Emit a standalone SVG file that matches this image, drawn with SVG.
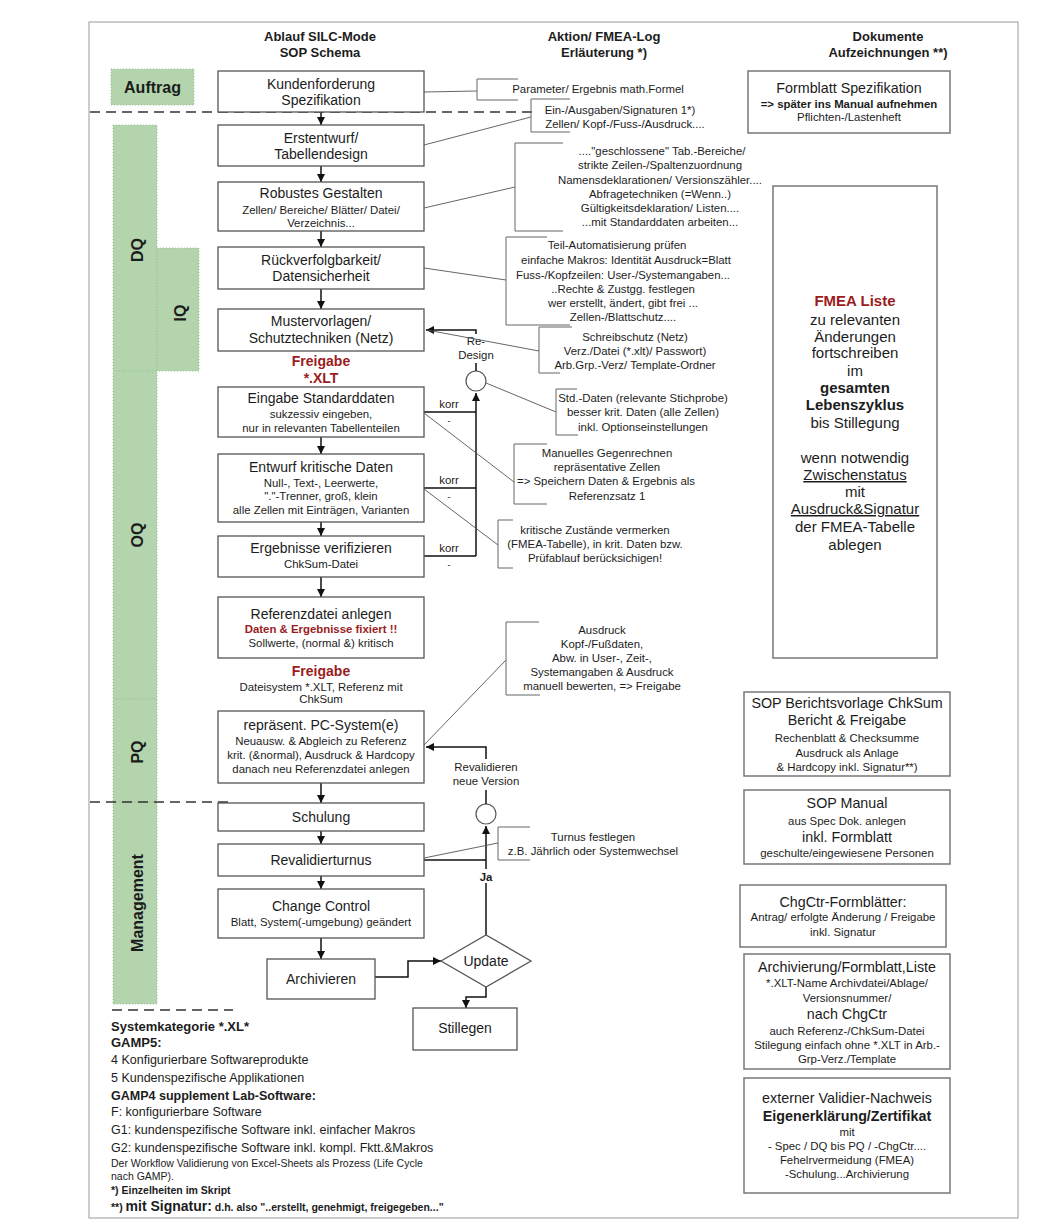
<svg xmlns="http://www.w3.org/2000/svg" width="1055" height="1229" viewBox="0 0 1055 1229">
<defs>
<style>
text{font-family:"Liberation Sans",Arial,sans-serif;fill:#1c1c1c;text-anchor:middle}
.h{font-size:13px;font-weight:bold}
.t14{font-size:14px}
.t11{font-size:11.4px}
.n{font-size:11.4px}
.r14{font-size:14.3px}
.red{fill:#9b1c1c;font-weight:bold}
.b{font-weight:bold}
.lab{font-size:16px;font-weight:bold}
.left{text-anchor:start}
.box{fill:#fff;stroke:#555;stroke-width:1.3}
.rbox{fill:#fff;stroke:#777;stroke-width:1.5}
.note{fill:none;stroke:#666;stroke-width:1}
.conn{fill:none;stroke:#555;stroke-width:0.9}
.flow{fill:none;stroke:#111;stroke-width:1.5}
.green{fill:#b3d4ad;stroke:#9cbf95;stroke-width:1;stroke-dasharray:1 2}
.dash{stroke:#333;stroke-width:1.6;stroke-dasharray:10 6;fill:none}
.u{text-decoration:underline}
</style>
<marker id="ah" viewBox="0 0 10 10" refX="10" refY="5" markerWidth="8" markerHeight="8" markerUnits="userSpaceOnUse" orient="auto"><path d="M0,0 L10,5 L0,10 z" fill="#111"/></marker>
</defs>
<rect x="0" y="0" width="1055" height="1229" fill="#fff"/>
<rect x="89" y="22" width="929" height="1196" fill="none" stroke="#999" stroke-width="1"/>

<g id="headers">
<text class="h" x="320" y="41">Ablauf SILC-Mode</text>
<text class="h" x="320" y="57">SOP Schema</text>
<text class="h" x="604" y="41">Aktion/ FMEA-Log</text>
<text class="h" x="604" y="57">Erläuterung *)</text>
<text class="h" x="888" y="41">Dokumente</text>
<text class="h" x="888" y="57">Aufzeichnungen **)</text>
</g>

<g id="phases">
<rect class="green" x="111" y="69" width="83" height="36"/>
<text class="lab" x="152.5" y="93">Auftrag</text>
<rect class="green" x="113" y="125" width="44" height="246"/>
<rect class="green" x="157" y="248" width="42" height="123"/>
<rect class="green" x="113" y="371" width="44" height="328"/>
<rect class="green" x="113" y="699" width="44" height="103"/>
<rect class="green" x="113" y="802" width="44" height="202"/>
<text class="lab" transform="rotate(-90 143 250)" x="143" y="250">DQ</text>
<text class="lab" transform="rotate(-90 186 313)" x="186" y="313">IQ</text>
<text class="lab" transform="rotate(-90 143 535)" x="143" y="535">OQ</text>
<text class="lab" transform="rotate(-90 143 752)" x="143" y="752">PQ</text>
<text class="lab" transform="rotate(-90 143 903)" x="143" y="903">Management</text>
<path class="dash" d="M90,112 H538"/>
<path class="dash" d="M90,802 H233"/>
<path class="dash" d="M112,1010 H233"/>
</g>

<g id="connectors">
<path class="flow" d="M321,112 V125" marker-end="url(#ah)"/>
<path class="flow" d="M321,166 V182" marker-end="url(#ah)"/>
<path class="flow" d="M321,231 V247" marker-end="url(#ah)"/>
<path class="flow" d="M321,289 V309" marker-end="url(#ah)"/>
<path class="flow" d="M321,437 V454" marker-end="url(#ah)"/>
<path class="flow" d="M321,522 V536" marker-end="url(#ah)"/>
<path class="flow" d="M321,577 V597" marker-end="url(#ah)"/>
<path class="flow" d="M321,783 V803" marker-end="url(#ah)"/>
<path class="flow" d="M321,831 V844" marker-end="url(#ah)"/>
<path class="flow" d="M321,876 V889" marker-end="url(#ah)"/>
<path class="flow" d="M321,938 V959" marker-end="url(#ah)"/>
<path class="flow" d="M375,977 H408 V961 H441" marker-end="url(#ah)"/>
<path class="flow" d="M486,987 V997 H466 V1008" marker-end="url(#ah)"/>
<path class="flow" d="M424,412 H476 M424,488 H476 M424,556 H476"/>
<path class="flow" d="M476,556 V393" marker-end="url(#ah)"/>
<circle cx="476" cy="381" r="10" fill="#fff" stroke="#555" stroke-width="1.2"/>
<path class="flow" d="M476,371 V330 H426" marker-end="url(#ah)"/>
<rect x="456" y="334" width="40" height="29" fill="#fff"/>
<text class="t11" x="476" y="345">Re-</text>
<text class="t11" x="476" y="359">Design</text>
<text class="t11" x="449" y="408">korr</text>
<text class="t11" x="449" y="484">korr</text>
<text class="t11" x="449" y="552">korr</text>
<text style="font-size:9px" x="449" y="424">-</text>
<text style="font-size:9px" x="449" y="500">-</text>
<text style="font-size:9px" x="449" y="568">-</text>
<path class="flow" d="M424,860 H486"/>
<path class="flow" d="M486,935 V826" marker-end="url(#ah)"/>
<circle cx="486" cy="814" r="10" fill="#fff" stroke="#555" stroke-width="1.2"/>
<path class="flow" d="M486,804 V747 H426" marker-end="url(#ah)"/>
<rect x="452" y="759" width="68" height="31" fill="#fff"/>
<text class="t11" x="486" y="771">Revalidieren</text>
<text class="t11" x="486" y="785">neue Version</text>
<rect x="478" y="869" width="16" height="14" fill="#fff"/>
<text class="t11 b" x="486" y="881">Ja</text>
<path class="conn" d="M424,92 L477,91"/>
<path class="conn" d="M424,145 L531,117"/>
<path class="conn" d="M424,208 L515,187"/>
<path class="conn" d="M424,268 L506,280"/>
<path class="conn" d="M427,330 L539,351"/>
<path class="conn" d="M486,383 L556,412"/>
<path class="conn" d="M424,413 L514,482"/>
<path class="conn" d="M424,489 L498,545"/>
<path class="conn" d="M424,745 L506,660"/>
<path class="conn" d="M424,858 L498,843"/>
</g>

<g id="n-kundenforderung">
<rect class="box" x="218" y="71" width="206" height="41"/>
<text class="t14" x="321" y="89">Kundenforderung</text>
<text class="t14" x="321" y="105">Spezifikation</text>
</g>
<g id="n-erstentwurf">
<rect class="box" x="218" y="125" width="206" height="41"/>
<text class="t14" x="321" y="143">Erstentwurf/</text>
<text class="t14" x="321" y="159">Tabellendesign</text>
</g>
<g id="n-robustes">
<rect class="box" x="218" y="182" width="206" height="49"/>
<text class="t14" x="321" y="198">Robustes Gestalten</text>
<text class="t11" x="321" y="214">Zellen/ Bereiche/ Blätter/ Datei/</text>
<text class="t11" x="321" y="227">Verzeichnis...</text>
</g>
<g id="n-rueckverfolgbarkeit">
<rect class="box" x="218" y="247" width="206" height="42"/>
<text class="t14" x="321" y="265">Rückverfolgbarkeit/</text>
<text class="t14" x="321" y="281">Datensicherheit</text>
</g>
<g id="n-mustervorlagen">
<rect class="box" x="218" y="309" width="206" height="42"/>
<text class="t14" x="321" y="326">Mustervorlagen/</text>
<text class="t14" x="321" y="343">Schutztechniken (Netz)</text>
</g>
<g id="n-freigabe1">
<text class="t14 red" x="321" y="366">Freigabe</text>
<text class="t14 red" x="321" y="383">*.XLT</text>
</g>
<g id="n-eingabe">
<rect class="box" x="218" y="387" width="206" height="50"/>
<text class="t14" x="321" y="403">Eingabe Standarddaten</text>
<text class="t11" x="321" y="418">sukzessiv eingeben,</text>
<text class="t11" x="321" y="432">nur in relevanten Tabellenteilen</text>
</g>
<g id="n-entwurf">
<rect class="box" x="218" y="454" width="206" height="68"/>
<text class="t14" x="321" y="472">Entwurf kritische Daten</text>
<text class="t11" x="321" y="487">Null-, Text-, Leerwerte,</text>
<text class="t11" x="321" y="500">"."-Trenner, groß, klein</text>
<text class="t11" x="321" y="514">alle Zellen mit Einträgen, Varianten</text>
</g>
<g id="n-ergebnisse">
<rect class="box" x="218" y="536" width="206" height="41"/>
<text class="t14" x="321" y="553">Ergebnisse verifizieren</text>
<text class="t11" x="321" y="568">ChkSum-Datei</text>
</g>
<g id="n-referenzdatei">
<rect class="box" x="218" y="597" width="206" height="61"/>
<text class="t14" x="321" y="619">Referenzdatei anlegen</text>
<text class="t11 red" x="321" y="633">Daten &amp; Ergebnisse fixiert !!</text>
<text class="t11" x="321" y="647">Sollwerte, (normal &amp;) kritisch</text>
</g>
<g id="n-freigabe2">
<text class="t14 red" x="321" y="676">Freigabe</text>
<text class="t11" x="321" y="691">Dateisystem *.XLT, Referenz mit</text>
<text class="t11" x="321" y="703">ChkSum</text>
</g>
<g id="n-pcsystem">
<rect class="box" x="218" y="711" width="206" height="72"/>
<text class="t14" x="321" y="730">repräsent. PC-System(e)</text>
<text class="t11" x="321" y="745">Neuausw. &amp; Abgleich zu Referenz</text>
<text class="t11" x="321" y="759">krit. (&amp;normal), Ausdruck &amp; Hardcopy</text>
<text class="t11" x="321" y="773">danach neu Referenzdatei anlegen</text>
</g>
<g id="n-schulung">
<rect class="box" x="218" y="803" width="206" height="28"/>
<text class="t14" x="321" y="822">Schulung</text>
</g>
<g id="n-revalidierturnus">
<rect class="box" x="218" y="844" width="206" height="32"/>
<text class="t14" x="321" y="865">Revalidierturnus</text>
</g>
<g id="n-changecontrol">
<rect class="box" x="218" y="889" width="206" height="49"/>
<text class="t14" x="321" y="911">Change Control</text>
<text class="t11" x="321" y="926">Blatt, System(-umgebung) geändert</text>
</g>
<g id="n-archivieren">
<rect class="box" x="267" y="959" width="108" height="40"/>
<text class="t14" x="321" y="984">Archivieren</text>
</g>
<g id="n-update">
<polygon points="441,961 486,935 531,961 486,987" fill="#fff" stroke="#555" stroke-width="1.3"/>
<text class="t14" x="486" y="966">Update</text>
</g>
<g id="n-stillegen">
<rect class="box" x="413" y="1008" width="104" height="42"/>
<text class="t14" x="465" y="1033">Stillegen</text>
</g>

<g id="note-parameter">
<path class="note" d="M518,79 H477 V100 H518"/>
<text class="n" x="598" y="93">Parameter/ Ergebnis math.Formel</text>
</g>
<g id="note-einausgaben">
<path class="note" d="M570,99 H531 V132 H570"/>
<text class="n" x="620" y="114">Ein-/Ausgaben/Signaturen 1*)</text>
<text class="n" x="625" y="128">Zellen/ Kopf-/Fuss-/Ausdruck....</text>
</g>
<g id="note-geschlossen">
<path class="note" d="M563,143 H515 V231 H563"/>
<text class="n" x="662" y="155">...."geschlossene" Tab.-Bereiche/</text>
<text class="n" x="660" y="169">strikte Zeilen-/Spaltenzuordnung</text>
<text class="n" x="660" y="184">Namensdeklarationen/ Versionszähler....</text>
<text class="n" x="660" y="198">Abfragetechniken (=Wenn..)</text>
<text class="n" x="660" y="212">Gültigkeitsdeklaration/ Listen....</text>
<text class="n" x="660" y="226">...mit Standarddaten arbeiten...</text>
</g>
<g id="note-automatisierung">
<path class="note" d="M547,237 H506 V325 H570"/>
<text class="n" x="617" y="249">Teil-Automatisierung prüfen</text>
<text class="n" x="626" y="264">einfache Makros: Identität Ausdruck=Blatt</text>
<text class="n" x="623" y="279">Fuss-/Kopfzeilen: User-/Systemangaben...</text>
<text class="n" x="623" y="293">..Rechte &amp; Zustgg. festlegen</text>
<text class="n" x="623" y="307">wer erstellt, ändert, gibt  frei ...</text>
<text class="n" x="623" y="321">Zellen-/Blattschutz....</text>
</g>
<g id="note-schreibschutz">
<path class="note" d="M572,327 H539 V373 H560"/>
<text class="n" x="635" y="341">Schreibschutz (Netz)</text>
<text class="n" x="635" y="355">Verz./Datei (*.xlt)/ Passwort)</text>
<text class="n" x="635" y="369">Arb.Grp.-Verz/ Template-Ordner</text>
</g>
<g id="note-stddaten">
<path class="note" d="M577,389 H556 V435 H578"/>
<text class="n" x="643" y="402">Std.-Daten (relevante Stichprobe)</text>
<text class="n" x="643" y="416">besser krit. Daten (alle Zellen)</text>
<text class="n" x="643" y="431">inkl.  Optionseinstellungen</text>
</g>
<g id="note-gegenrechnen">
<path class="note" d="M547,444 H514 V504 H547"/>
<text class="n" x="607" y="457">Manuelles Gegenrechnen</text>
<text class="n" x="607" y="471">repräsentative Zellen</text>
<text class="n" x="606" y="485">=&gt; Speichern Daten &amp; Ergebnis als</text>
<text class="n" x="607" y="500">Referenzsatz 1</text>
</g>
<g id="note-kritisch">
<path class="note" d="M513,520 H498 V568 H513"/>
<text class="n" x="595" y="534">kritische Zustände vermerken</text>
<text class="n" x="595" y="548">(FMEA-Tabelle), in krit. Daten bzw.</text>
<text class="n" x="595" y="562">Prüfablauf berücksichigen!</text>
</g>
<g id="note-ausdruck">
<path class="note" d="M539,622 H506 V695 H540"/>
<text class="n" x="602" y="634">Ausdruck</text>
<text class="n" x="602" y="648">Kopf-/Fußdaten,</text>
<text class="n" x="602" y="662">Abw. in User-, Zeit-,</text>
<text class="n" x="602" y="676">Systemangaben &amp; Ausdruck</text>
<text class="n" x="602" y="690">manuell bewerten, =&gt; Freigabe</text>
</g>
<g id="note-turnus">
<path class="note" d="M530,827 H498 V860 H530"/>
<text class="n" x="593" y="841">Turnus festlegen</text>
<text class="n" x="593" y="855">z.B. Jährlich oder Systemwechsel</text>
</g>

<g id="doc-formblatt">
<rect class="rbox" x="748" y="71" width="202" height="62"/>
<text class="r14" x="849" y="93">Formblatt Spezifikation</text>
<text class="t11 b" x="849" y="108">=&gt; später ins Manual aufnehmen</text>
<text class="t11" x="849" y="121">Pflichten-/Lastenheft</text>
</g>
<g id="doc-fmea">
<rect class="rbox" x="773" y="186" width="164" height="472"/>
<text x="855" y="306" style="font-size:15px;font-weight:bold;fill:#9b1c1c">FMEA Liste</text>
<text x="855" y="325" style="font-size:15px">zu relevanten</text>
<text x="855" y="342" style="font-size:15px">Änderungen</text>
<text x="855" y="358" style="font-size:15px">fortschreiben</text>
<text x="855" y="376" style="font-size:15px">im</text>
<text x="855" y="393" style="font-size:15px;font-weight:bold">gesamten</text>
<text x="855" y="410" style="font-size:15px;font-weight:bold">Lebenszyklus</text>
<text x="855" y="428" style="font-size:15px">bis Stillegung</text>
<text x="855" y="463" style="font-size:15px">wenn notwendig</text>
<text x="855" y="480" style="font-size:15px" class="u">Zwischenstatus</text>
<text x="855" y="497" style="font-size:15px">mit</text>
<text x="855" y="514" style="font-size:15px" class="u">Ausdruck&amp;Signatur</text>
<text x="855" y="532" style="font-size:15px">der FMEA-Tabelle</text>
<text x="855" y="550" style="font-size:15px">ablegen</text>
</g>
<g id="doc-sopbericht">
<rect class="rbox" x="744" y="692" width="206" height="84"/>
<text class="r14" x="847" y="708">SOP Berichtsvorlage ChkSum</text>
<text class="r14" x="847" y="725">Bericht &amp; Freigabe</text>
<text class="t11" x="847" y="742">Rechenblatt &amp; Checksumme</text>
<text class="t11" x="847" y="757">Ausdruck als Anlage</text>
<text class="t11" x="847" y="771">&amp; Hardcopy inkl. Signatur**)</text>
</g>
<g id="doc-sopmanual">
<rect class="rbox" x="744" y="790" width="206" height="74"/>
<text class="r14" x="847" y="808">SOP Manual</text>
<text class="t11" x="847" y="825">aus Spec Dok. anlegen</text>
<text class="r14" x="847" y="842">inkl. Formblatt</text>
<text class="t11" x="847" y="857">geschulte/eingewiesene Personen</text>
</g>
<g id="doc-chgctr">
<rect class="rbox" x="740" y="885" width="206" height="62"/>
<text class="r14" x="843" y="907">ChgCtr-Formblätter:</text>
<text class="t11" x="843" y="921">Antrag/ erfolgte Änderung / Freigabe</text>
<text class="t11" x="843" y="936">inkl. Signatur</text>
</g>
<g id="doc-archivierung">
<rect class="rbox" x="744" y="954" width="206" height="115"/>
<text class="r14" x="847" y="972">Archivierung/Formblatt,Liste</text>
<text class="t11" x="847" y="987">*.XLT-Name Archivdatei/Ablage/</text>
<text class="t11" x="847" y="1002">Versionsnummer/</text>
<text class="r14" x="847" y="1019">nach ChgCtr</text>
<text class="t11" x="847" y="1035">auch Referenz-/ChkSum-Datei</text>
<text class="t11" x="847" y="1049">Stilegung einfach ohne *.XLT in Arb.-</text>
<text class="t11" x="847" y="1063">Grp-Verz./Template</text>
</g>
<g id="doc-nachweis">
<rect class="rbox" x="744" y="1078" width="206" height="115"/>
<text class="r14" x="847" y="1103">externer Validier-Nachweis</text>
<text class="r14 b" x="847" y="1121">Eigenerklärung/Zertifikat</text>
<text class="t11" x="847" y="1136">mit</text>
<text class="t11" x="847" y="1150">- Spec / DQ bis PQ / -ChgCtr....</text>
<text class="t11" x="847" y="1164">Fehelrvermeidung (FMEA)</text>
<text class="t11" x="847" y="1178">-Schulung...Archivierung</text>
</g>

<g id="legend">
<text class="left b" x="111" y="1031" style="font-size:13px">Systemkategorie *.XL*</text>
<text class="left b" x="111" y="1047" style="font-size:13px">GAMP5:</text>
<text class="left" x="111" y="1064" style="font-size:12.5px">4 Konfigurierbare Softwareprodukte</text>
<text class="left" x="111" y="1082" style="font-size:12.5px">5 Kundenspezifische Applikationen</text>
<text class="left b" x="111" y="1100" style="font-size:12.5px">GAMP4 supplement Lab-Software:</text>
<text class="left" x="111" y="1116" style="font-size:12.5px">F: konfigurierbare Software</text>
<text class="left" x="111" y="1134" style="font-size:12.5px">G1: kundenspezifische Software inkl. einfacher Makros</text>
<text class="left" x="111" y="1152" style="font-size:12.5px">G2: kundenspezifische Software inkl. kompl. Fktt.&amp;Makros</text>
<text class="left" x="111" y="1167" style="font-size:10.5px">Der Workflow Validierung von Excel-Sheets als Prozess (Life Cycle</text>
<text class="left" x="111" y="1180" style="font-size:10.5px">nach GAMP).</text>
<text class="left b" x="111" y="1194" style="font-size:10.5px">*) Einzelheiten im Skript</text>
<text class="left b" x="111" y="1211" style="font-size:10.5px">**) <tspan style="font-size:14px">mit Signatur:</tspan> d.h. also "..erstellt, genehmigt, freigegeben..."</text>
</g>
</svg>
